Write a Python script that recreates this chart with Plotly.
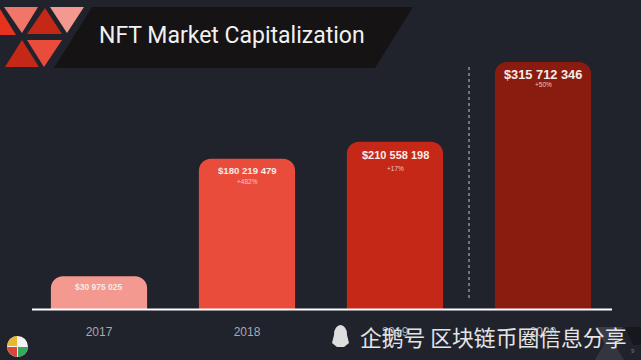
import plotly.graph_objects as go

W, H = 641, 360
years = ["2017", "2018", "2019", "2020"]
bar_heights = [42, 192, 214, 316]
value_labels = ["$30 975 025", "$180 219 479", "$210 558 198", "$315 712 346"]
growth_labels = ["", "+482%", "+17%", "+50%"]
bar_colors = ["#f4998f", "#ea4c3c", "#c52816", "#8a1c0f"]
title_text = "NFT Market Capitalization"
watermark = "企鹅号 区块链币圈信息分享"
BG = "#20232c"


def px(x):
    return x / W


def py(y):
    return 1 - y / H


def poly(points, color, opacity=1):
    d = "M " + " L ".join(f"{px(x):.4f} {py(y):.4f}" for x, y in points) + " Z"
    return dict(type="path", xref="paper", yref="paper", path=d, fillcolor=color,
                line=dict(width=0), opacity=opacity, layer="below")


shapes = [
    poly([(92, 7), (413, 7), (375, 68), (54, 68)], "#161314"),
    poly([(4, 7), (38, 7), (22, 33)], "#f0766a"),
    poly([(0, 9), (16, 35), (0, 35)], "#e5331f"),
    poly([(45, 8), (62, 34), (27, 34)], "#c52816"),
    poly([(50, 7), (84, 7), (67, 33)], "#f4998f"),
    poly([(22, 40), (39, 67), (5, 67)], "#c52816"),
    poly([(27, 40), (62, 40), (44, 67)], "#ea4c3c"),
    # bottom-right decoration
    poly([(595, 327), (623, 327), (609, 352)], "#3a3c47"),
    poly([(609, 335), (595, 360), (624, 360)], "#33353f"),
    poly([(625, 327), (641, 327), (641, 345), (633, 345)], "#17181e"),
    # baseline
    dict(type="line", xref="paper", yref="paper", x0=px(32), x1=px(612), y0=py(309.5), y1=py(309.5),
         line=dict(color="#ffffff", width=2)),
    # separator
    dict(type="line", xref="paper", yref="paper", x0=px(469), x1=px(469), y0=py(67), y1=py(300),
         line=dict(color="#c8c8c8", width=1, dash="dot")),
    # logo
    dict(type="circle", xref="paper", yref="paper", x0=px(7), x1=px(28), y0=py(357), y1=py(336),
         fillcolor="#f2f2f2", line=dict(width=0)),
    dict(type="path", xref="paper", yref="paper", fillcolor="#e9b72c", line=dict(width=0),
         path=f"M {px(17)} {py(346)} L {px(7)} {py(346)} Q {px(8)} {py(337)} {px(17)} {py(336)} Z"),
    dict(type="path", xref="paper", yref="paper", fillcolor="#d9473a", line=dict(width=0),
         path=f"M {px(17)} {py(347)} L {px(7)} {py(347)} Q {px(8)} {py(356)} {px(17)} {py(357)} Z"),
    dict(type="path", xref="paper", yref="paper", fillcolor="#35a861", line=dict(width=0),
         path=f"M {px(18)} {py(347)} L {px(28)} {py(347)} Q {px(27)} {py(356)} {px(18)} {py(357)} Z"),
    # penguin
    dict(type="circle", xref="paper", yref="paper", x0=px(334), x1=px(347), y0=py(343), y1=py(325),
         fillcolor="#dedede", line=dict(width=0)),
    poly([(332, 343), (334, 335), (347, 335), (349, 343), (344, 347), (337, 347)], "#dedede"),
]

fig = go.Figure(go.Bar(
    x=years, y=bar_heights, marker=dict(color=bar_colors, cornerradius=12, line=dict(width=0)),
    hoverinfo="skip",
))

annotations = []
for i, (h, val, g) in enumerate(zip(bar_heights, value_labels, growth_labels)):
    size = [8.5, 9.6, 11, 12.8][i]
    offset = [11, 12, 13, 13][i]
    gap = [0, 11, 14, 10][i]
    annotations.append(dict(x=i, y=h, xref="x", yref="y", text=f"<b>{val}</b>", showarrow=False,
                            yshift=-offset, font=dict(family="Liberation Sans", size=size, color="#f5ece8")))
    if g:
        annotations.append(dict(x=i, y=h, xref="x", yref="y", text=g, showarrow=False,
                                yshift=-(offset + gap), font=dict(family="Liberation Sans", size=6.5, color="#eec9c2")))

annotations += [
    dict(xref="paper", yref="paper", x=px(97), y=py(36), xanchor="left", yanchor="middle", text=title_text,
         showarrow=False, font=dict(family="Roboto", size=23, color="#f1f1f1")),
    dict(xref="paper", yref="paper", x=px(358), y=py(336), xanchor="left", yanchor="middle", text=watermark,
         showarrow=False, font=dict(family="Noto Sans CJK SC", size=21.8, color="#e4e4e4")),
    dict(xref="paper", yref="paper", x=px(637), y=py(351), yanchor="middle", text="9", showarrow=False,
         font=dict(family="Liberation Sans", size=6, color="#777777")),
]

fig.update_layout(
    width=W, height=H, margin=dict(l=0, r=0, t=0, b=0, autoexpand=False), autosize=False,
    paper_bgcolor=BG, plot_bgcolor=BG, showlegend=False, bargap=0.35,
    shapes=shapes, annotations=annotations,
    xaxis=dict(type="category", domain=[25 / W, 617 / W], range=[-0.5, 3.5], showgrid=False, zeroline=False,
               showline=False, ticks="",
               tickfont=dict(family="Liberation Sans", size=12, color="#a9a9ad"), ticklabelstandoff=14),
    yaxis=dict(domain=[py(309), 1], range=[0, 309 / 0.782], showgrid=False, zeroline=False, visible=False),
)
fig.write_html("out.html", config=dict(displayModeBar=False),
               post_script="document.body.style.margin='0';document.documentElement.style.background='#20232c';")
